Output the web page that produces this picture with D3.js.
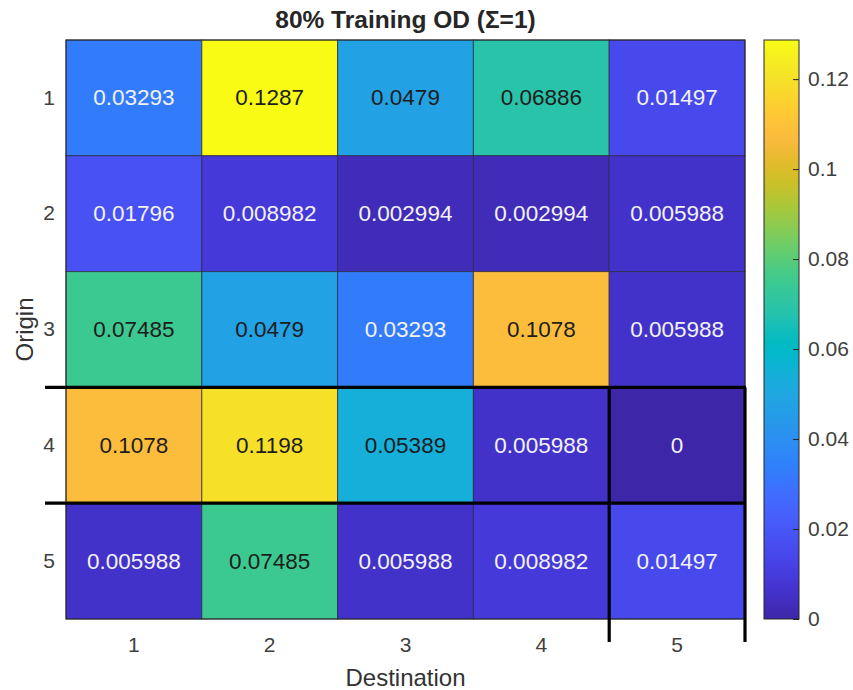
<!DOCTYPE html>
<html>
<head>
<meta charset="utf-8">
<script src="https://cdn.jsdelivr.net/npm/d3@7/dist/d3.min.js"></script>
<style>
  html, body { margin: 0; padding: 0; background: #fff; }
  svg { display: block; font-family: "Liberation Sans", Arial, Helvetica, sans-serif; }
</style>
</head>
<body>
<svg id="chart" width="853" height="690"></svg>
<script>
// Origin–destination shares (rows = origin, columns = destination)
const origins = ["1", "2", "3", "4", "5"];
const destinations = ["1", "2", "3", "4", "5"];
const row1 = [0.03293, 0.1287, 0.0479, 0.06886, 0.01497];
const row2 = [0.01796, 0.008982, 0.002994, 0.002994, 0.005988];
const row3 = [0.07485, 0.0479, 0.03293, 0.1078, 0.005988];
const row4 = [0.1078, 0.1198, 0.05389, 0.005988, 0];
const row5 = [0.005988, 0.07485, 0.005988, 0.008982, 0.01497];
const rows = [row1, row2, row3, row4, row5];
const colorbarTicks = [0, 0.02, 0.04, 0.06, 0.08, 0.1, 0.12];
const highlightOrigin = "4";
const highlightDestination = "5";
const titleText = "80% Training OD (\u03A3=1)";

// parula(64) colormap table
const parula = [
[0.2422,0.1504,0.6603],[0.2504,0.1650,0.7076],[0.2578,0.1818,0.7511],[0.2647,0.1978,0.7952],
[0.2706,0.2147,0.8364],[0.2751,0.2342,0.8710],[0.2783,0.2559,0.8991],[0.2803,0.2782,0.9221],
[0.2813,0.3006,0.9414],[0.2810,0.3228,0.9579],[0.2795,0.3447,0.9717],[0.2760,0.3667,0.9829],
[0.2699,0.3892,0.9906],[0.2602,0.4123,0.9952],[0.2440,0.4358,0.9988],[0.2206,0.4603,0.9973],
[0.1963,0.4847,0.9892],[0.1834,0.5074,0.9798],[0.1786,0.5289,0.9682],[0.1764,0.5499,0.9520],
[0.1687,0.5703,0.9359],[0.1540,0.5902,0.9218],[0.1460,0.6091,0.9079],[0.1380,0.6276,0.8973],
[0.1248,0.6459,0.8883],[0.1113,0.6635,0.8763],[0.0952,0.6798,0.8598],[0.0689,0.6948,0.8394],
[0.0297,0.7082,0.8163],[0.0036,0.7203,0.7917],[0.0067,0.7312,0.7660],[0.0433,0.7411,0.7394],
[0.0964,0.7500,0.7120],[0.1408,0.7584,0.6842],[0.1717,0.7670,0.6554],[0.1938,0.7758,0.6251],
[0.2161,0.7843,0.5923],[0.2470,0.7918,0.5567],[0.2906,0.7973,0.5188],[0.3406,0.8008,0.4789],
[0.3909,0.8029,0.4354],[0.4456,0.8024,0.3909],[0.5044,0.7993,0.3480],[0.5616,0.7942,0.3045],
[0.6174,0.7876,0.2612],[0.6720,0.7793,0.2227],[0.7242,0.7698,0.1910],[0.7738,0.7598,0.1646],
[0.8203,0.7498,0.1535],[0.8634,0.7406,0.1596],[0.9035,0.7330,0.1774],[0.9393,0.7288,0.2100],
[0.9728,0.7298,0.2394],[0.9956,0.7434,0.2371],[0.9970,0.7659,0.2199],[0.9952,0.7893,0.2028],
[0.9892,0.8136,0.1885],[0.9786,0.8386,0.1766],[0.9676,0.8639,0.1643],[0.9610,0.8890,0.1537],
[0.9597,0.9135,0.1423],[0.9628,0.9373,0.1265],[0.9691,0.9606,0.1064],[0.9769,0.9839,0.0805]
];
const parulaColors = parula.map(c => d3.rgb(c[0]*255, c[1]*255, c[2]*255));
const parulaInterp = d3.interpolateRgbBasis(parulaColors);

const svg = d3.select("#chart");
const plot = { left: 66, right: 745, top: 40, bottom: 619 };
const cbar = { left: 764, right: 799 };

const cells = [];
rows.forEach((r, i) => r.forEach((v, j) => cells.push({ o: origins[i], d: destinations[j], v })));
const vmax = d3.max(cells, c => c.v);

const x = d3.scaleBand().domain(destinations).range([plot.left, plot.right]);
const y = d3.scaleBand().domain(origins).range([plot.top, plot.bottom]);
const color = d3.scaleSequential(parulaInterp).domain([0, vmax]);

function labelColor(v) {
  const c = d3.rgb(color(v));
  const lum = (0.299 * c.r + 0.587 * c.g + 0.114 * c.b) / 255;
  return lum > 0.5 ? "#1c1c1c" : "#f2f2f2";
}

// cells
svg.append("g").selectAll("rect").data(cells).join("rect")
  .attr("x", d => x(d.d)).attr("y", d => y(d.o))
  .attr("width", x.bandwidth()).attr("height", y.bandwidth())
  .attr("fill", d => color(d.v))
  .attr("stroke", "#2a2a40").attr("stroke-opacity", 0.75).attr("stroke-width", 1);

// cell value labels
svg.append("g").selectAll("text").data(cells).join("text")
  .attr("x", d => x(d.d) + x.bandwidth() / 2)
  .attr("y", d => y(d.o) + y.bandwidth() / 2)
  .attr("text-anchor", "middle").attr("dominant-baseline", "central")
  .attr("font-size", 22.5).attr("fill", d => labelColor(d.v))
  .text(d => String(d.v));

// outer frame
svg.append("rect")
  .attr("x", plot.left).attr("y", plot.top)
  .attr("width", plot.right - plot.left).attr("height", plot.bottom - plot.top)
  .attr("fill", "none").attr("stroke", "#262626").attr("stroke-width", 1);

// axes (tick labels only)
const xAxis = svg.append("g").attr("transform", `translate(0,${plot.bottom})`)
  .call(d3.axisBottom(x).tickSize(0).tickPadding(18));
const yAxis = svg.append("g").attr("transform", `translate(${plot.left},0)`)
  .call(d3.axisLeft(y).tickSize(0).tickPadding(11));
[xAxis, yAxis].forEach(g => {
  g.select(".domain").remove();
  g.selectAll("text").attr("font-size", 21).attr("fill", "#404040")
    .attr("font-family", "Liberation Sans, Arial, sans-serif");
});

// highlighted origin row and destination column
const hl = svg.append("g").attr("stroke", "#000").attr("stroke-width", 3.2).attr("stroke-linecap", "butt");
const rTop = y(highlightOrigin), rBot = y(highlightOrigin) + y.bandwidth();
const cLeft = x(highlightDestination), cRight = x(highlightDestination) + x.bandwidth();
[rTop, rBot].forEach(yy => hl.append("line")
  .attr("x1", plot.left - 21).attr("x2", plot.right + 1).attr("y1", yy).attr("y2", yy));
[cLeft, cRight].forEach(xx => hl.append("line")
  .attr("x1", xx).attr("x2", xx).attr("y1", rTop).attr("y2", plot.bottom + 23));

// title and axis labels
svg.append("text").attr("x", (plot.left + plot.right) / 2).attr("y", 28)
  .attr("text-anchor", "middle").attr("font-size", 24.5).attr("font-weight", "bold")
  .attr("fill", "#262626").text(titleText);
svg.append("text").attr("x", (plot.left + plot.right) / 2).attr("y", 686)
  .attr("text-anchor", "middle").attr("font-size", 24).attr("fill", "#333")
  .text("Destination");
svg.append("text")
  .attr("transform", `translate(33,${(plot.top + plot.bottom) / 2}) rotate(-90)`)
  .attr("text-anchor", "middle").attr("font-size", 24).attr("fill", "#333")
  .text("Origin");

// colorbar
const cy = d3.scaleLinear().domain([0, vmax]).range([plot.bottom, plot.top]);
const defs = svg.append("defs");
const grad = defs.append("linearGradient").attr("id", "cbgrad")
  .attr("x1", 0).attr("x2", 0).attr("y1", 1).attr("y2", 0);
d3.range(0, 1.0001, 1 / 63).forEach(t => grad.append("stop")
  .attr("offset", t).attr("stop-color", parulaInterp(t)));
svg.append("rect").attr("x", cbar.left).attr("y", plot.top)
  .attr("width", cbar.right - cbar.left).attr("height", plot.bottom - plot.top)
  .attr("fill", "url(#cbgrad)").attr("stroke", "#262626").attr("stroke-width", 1);
const cAxis = svg.append("g").attr("transform", `translate(${cbar.right},0)`)
  .call(d3.axisRight(cy).tickValues(colorbarTicks).tickSizeInner(-6).tickSizeOuter(0)
    .tickPadding(9).tickFormat(d => d3.format("~g")(d)));
cAxis.select(".domain").remove();
cAxis.selectAll("line").attr("stroke", "#262626");
cAxis.selectAll("text").attr("font-size", 21).attr("fill", "#404040")
  .attr("font-family", "Liberation Sans, Arial, sans-serif");
</script>
</body>
</html>
